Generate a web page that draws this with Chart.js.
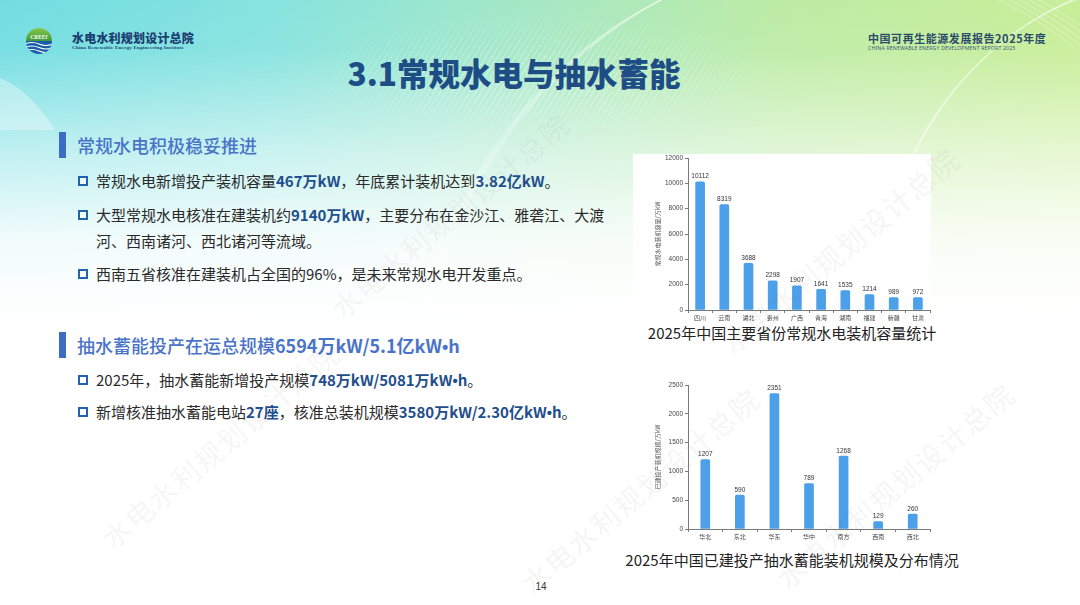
<!DOCTYPE html>
<html lang="zh-CN">
<head>
<meta charset="utf-8">
<script src="https://cdn.jsdelivr.net/npm/chart.js@4.4.1/dist/chart.umd.min.js"></script>
<style>
  html,body{margin:0;padding:0;}
  body{width:1080px;height:605px;overflow:hidden;position:relative;font-family:"Noto Sans CJK SC","Noto Sans",sans-serif;
    background:
      linear-gradient(180deg, rgba(255,255,255,0) 0px, rgba(255,255,255,0.05) 50px, rgba(255,255,255,0.55) 150px, rgba(255,255,255,0.9) 240px, #fff 320px),
      linear-gradient(90deg, #72dde1 0%, #86e3df 25%, #a6e8c4 50%, #bdeca6 72%, #c8ee98 100%);
  }
  .abs{position:absolute;white-space:nowrap;}
  .stripes{position:absolute;left:280px;top:0;width:520px;height:140px;
    background:repeating-linear-gradient(-58deg, rgba(255,255,255,0.35) 0 1px, rgba(255,255,255,0) 1px 5px);
    -webkit-mask-image:radial-gradient(ellipse 50% 50% at 50% 55%, #000 30%, transparent 100%);
    mask-image:radial-gradient(ellipse 50% 50% at 50% 55%, #000 30%, transparent 100%);}
  .logo-cn{left:72px;top:30px;font-size:12px;font-weight:900;color:#1c3f72;letter-spacing:0.2px;line-height:16px;}
  .logo-en{left:72px;top:45px;font-size:5px;font-family:"Liberation Serif",serif;font-weight:bold;color:#1c3f72;letter-spacing:0.25px;line-height:6px;}
  .rep-cn{left:868px;top:31px;font-size:11px;font-weight:700;color:#2b4c6b;letter-spacing:0.55px;line-height:14px;}
  .rep-en{left:868px;top:45px;font-size:5.2px;font-family:"Noto Sans",sans-serif;color:#3a5a78;letter-spacing:0.15px;line-height:6px;}
  .title{left:0;width:1028px;text-align:center;top:52px;font-size:31.5px;font-weight:900;color:#1e4d86;line-height:40px;}
  .hbar{position:absolute;left:59px;width:7px;height:26px;background:#3c6dc4;}
  .head{left:77px;font-size:18px;color:#4a74c8;line-height:24px;font-weight:500;}
  .head b{font-weight:700;}
  .box{position:absolute;left:78px;width:6px;height:6px;border:2px solid #1f64b0;background:rgba(255,255,255,0.6);}
  .txt{left:96px;font-size:15px;color:#2a2a2a;line-height:22px;}
  .txt b{color:#1f4e8c;font-weight:700;}
  .dot{font-family:"Liberation Sans",Arial,sans-serif;}
  .ctitle{left:560px;width:464px;text-align:center;font-size:15px;color:#222;line-height:20px;}
  .whitebox{position:absolute;background:#fff;}
  .wm{position:absolute;font-size:28px;color:rgba(120,120,120,0.075);white-space:nowrap;transform:rotate(-40deg);transform-origin:center center;pointer-events:none;z-index:20;letter-spacing:2px;}
  canvas{position:absolute;}
</style>
</head>
<body>
<svg class="abs" style="left:0;top:0;" width="1080" height="300">
  <g fill="none" stroke="rgba(255,255,255,0.45)" stroke-width="0.8">
    <ellipse cx="830" cy="430" rx="420" ry="470"/>
    <ellipse cx="835" cy="432" rx="424" ry="474"/>
    <ellipse cx="840" cy="434" rx="428" ry="478"/>
    <ellipse cx="845" cy="436" rx="432" ry="482"/>
    <ellipse cx="850" cy="438" rx="436" ry="486"/>
    <ellipse cx="1180" cy="300" rx="300" ry="320"/>
    <ellipse cx="1184" cy="302" rx="304" ry="324"/>
    <ellipse cx="1188" cy="304" rx="308" ry="328"/>
    <ellipse cx="1192" cy="306" rx="312" ry="332"/>
  </g>
  <path d="M0 78 Q 30 90 55 130 L 0 130 Z" fill="rgba(255,255,255,0.35)"/>
</svg>
<div class="stripes"></div>

<!-- logo -->
<svg class="abs" style="left:25px;top:27px;" width="28" height="28" viewBox="0 0 28 28">
  <defs>
    <clipPath id="c"><circle cx="14" cy="14" r="13"/></clipPath>
    <linearGradient id="g" x1="0" y1="0" x2="0" y2="1"><stop offset="0" stop-color="#8ccc4a"/><stop offset="1" stop-color="#3f9a3c"/></linearGradient>
  </defs>
  <g clip-path="url(#c)">
    <rect x="0" y="0" width="28" height="14" fill="url(#g)"/>
    <rect x="0" y="14" width="28" height="14" fill="#1a5ea8"/>
    <path d="M0 17 Q7 14 14 17 T28 17" stroke="#fff" stroke-width="1.2" fill="none"/>
    <path d="M0 20.5 Q7 17.5 14 20.5 T28 20.5" stroke="#fff" stroke-width="1.2" fill="none"/>
    <path d="M0 24 Q7 21 14 24 T28 24" stroke="#fff" stroke-width="1.2" fill="none"/>
  </g>
  <text x="14" y="12" text-anchor="middle" font-size="5.5" font-style="italic" font-weight="bold" fill="#fff" font-family="Liberation Serif">CREEI</text>
</svg>
<div class="abs logo-cn">水电水利规划设计总院</div>
<div class="abs logo-en">China Renewable Energy Engineering Institute</div>

<div class="abs rep-cn">中国可再生能源发展报告2025年度</div>
<div class="abs rep-en">CHINA RENEWABLE ENERGY DEVELOPMENT REPORT 2025</div>

<div class="abs title">3.1常规水电与抽水蓄能</div>

<div class="hbar" style="top:132px;"></div>
<div class="abs head" style="top:133px;">常规水电积极稳妥推进</div>

<div class="box" style="top:176px;"></div>
<div class="abs txt" style="top:170px;">常规水电新增投产装机容量<b>467万kW</b>，年底累计装机达到<b>3.82亿kW</b>。</div>
<div class="box" style="top:210px;"></div>
<div class="abs txt" style="top:204px;">大型常规水电核准在建装机约<b>9140万kW</b>，主要分布在金沙江、雅砻江、大渡</div>
<div class="abs txt" style="top:230px;">河、西南诸河、西北诸河等流域。</div>
<div class="box" style="top:269px;"></div>
<div class="abs txt" style="top:263px;">西南五省核准在建装机占全国的96%，是未来常规水电开发重点。</div>

<div class="hbar" style="top:332px;"></div>
<div class="abs head" style="top:333px;">抽水蓄能投产在运总规模<b>6594万kW/5.1亿kW<span class="dot">•</span>h</b></div>

<div class="box" style="top:375px;"></div>
<div class="abs txt" style="top:369px;">2025年，抽水蓄能新增投产规模<b>748万kW/5081万kW<span class="dot">•</span>h</b>。</div>
<div class="box" style="top:407px;"></div>
<div class="abs txt" style="top:401px;">新增核准抽水蓄能电站<b>27座</b>，核准总装机规模<b>3580万kW/2.30亿kW<span class="dot">•</span>h</b>。</div>

<div class="whitebox" style="left:633px;top:154px;width:298px;height:166px;"></div>
<div class="whitebox" style="left:633px;top:378px;width:300px;height:166px;background:rgba(255,255,255,0.9);"></div>

<canvas id="c1" width="284" height="172" style="left:650px;top:150px;"></canvas>
<canvas id="c2" width="284" height="164" style="left:650px;top:377px;"></canvas>

<div class="abs ctitle" style="top:323px;">2025年中国主要省份常规水电装机容量统计</div>
<div class="abs ctitle" style="top:550px;">2025年中国已建投产抽水蓄能装机规模及分布情况</div>

<div class="abs" style="left:531px;width:20px;text-align:center;top:580px;font-size:10px;color:#333;line-height:14px;font-family:'Liberation Sans',sans-serif;">14</div>

<div class="wm" style="left:70px;top:425px;">水电水利规划设计总院</div>
<div class="wm" style="left:300px;top:195px;">水电水利规划设计总院</div>
<div class="wm" style="left:490px;top:470px;">水电水利规划设计总院</div>
<div class="wm" style="left:690px;top:230px;">水电水利规划设计总院</div>
<div class="wm" style="left:745px;top:465px;">水电水利规划设计总院</div>

<script>
// ---- data ----
const provinces = ['四川','云南','湖北','贵州','广西','青海','湖南','福建','新疆','甘肃'];
const hydroCapacity = [10112, 8319, 3688, 2298, 1907, 1641, 1535, 1214, 989, 972];
const hydroTicks = {min: 0, max: 12000, step: 2000};
const hydroAxisTitle = '常规水电装机容量/万kW';

const regions = ['华北','东北','华东','华中','南方','西南','西北'];
const pumpedCapacity = [1207, 590, 2351, 789, 1268, 129, 260];
const pumpedTicks = {min: 0, max: 2500, step: 500};
const pumpedAxisTitle = '已建投产装机规模/万kW';

const barColor = '#4c9fe9';
const axisColor = '#7a7a7a';

const valueLabels = {
  id: 'valueLabels',
  afterDatasetsDraw(chart) {
    const ctx = chart.ctx;
    const meta = chart.getDatasetMeta(0);
    const vals = chart.data.datasets[0].data;
    ctx.save();
    ctx.font = '6.5px "Liberation Sans", Arial, sans-serif';
    ctx.fillStyle = '#333';
    ctx.textAlign = 'center';
    ctx.textBaseline = 'bottom';
    meta.data.forEach((bar, i) => ctx.fillText(String(vals[i]), bar.x, bar.y - 2));
    ctx.restore();
  }
};

function makeChart(id, labels, values, ticks, title) {
  return new Chart(document.getElementById(id), {
    type: 'bar',
    data: {
      labels: labels,
      datasets: [{
        data: values,
        backgroundColor: barColor,
        borderRadius: {topLeft: 1.5, topRight: 1.5},
        borderSkipped: 'bottom',
        barThickness: 9
      }]
    },
    plugins: [valueLabels],
    options: {
      responsive: false,
      animation: false,
      layout: {padding: {top: 8, right: 4, left: 0, bottom: 0}},
      plugins: {legend: {display: false}, tooltip: {enabled: false}},
      scales: {
        x: {
          grid: {display: true, drawOnChartArea: false, drawTicks: true, tickLength: 3, color: axisColor, offset: true},
          border: {display: true, color: axisColor, width: 1},
          ticks: {padding: 1, color: '#444', font: {size: 6, family: '"Noto Sans CJK SC", sans-serif'}, maxRotation: 0, autoSkip: false},
          afterFit: s => { s.height = 12; }
        },
        y: {
          min: ticks.min, max: ticks.max,
          grid: {display: true, drawOnChartArea: false, drawTicks: true, tickLength: 3, color: axisColor},
          border: {display: true, color: axisColor, width: 1},
          ticks: {stepSize: ticks.step, padding: 2, color: '#444', font: {size: 6.5, family: '"Liberation Sans", Arial, sans-serif'}, callback: v => String(v)},
          title: {display: true, text: title, color: '#555', font: {size: 6, family: '"Noto Sans CJK SC", sans-serif'}, padding: {top: 4, bottom: 2}},
          afterFit: s => { s.width = 38; }
        }
      }
    }
  });
}

makeChart('c1', provinces, hydroCapacity, hydroTicks, hydroAxisTitle);
makeChart('c2', regions, pumpedCapacity, pumpedTicks, pumpedAxisTitle);
</script>
</body>
</html>
